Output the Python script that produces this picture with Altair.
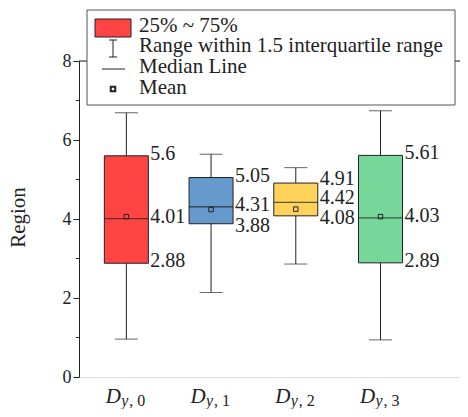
import altair as alt
import pandas as pd

categories = ["Dy0", "Dy1", "Dy2", "Dy3"]
positions = [1, 2, 3, 4]
sub_digits = ["0", "1", "2", "3"]
mins = [0.96, 2.14, 2.86, 0.94]
q1s = [2.88, 3.88, 4.08, 2.89]
medians = [4.01, 4.31, 4.42, 4.03]
q3s = [5.6, 5.05, 4.91, 5.61]
maxs = [6.69, 5.64, 5.30, 6.74]
means = [4.06, 4.24, 4.25, 4.06]
colors = ["#FF4444", "#6699CC", "#FFD35A", "#77D69A"]

label_cat = [1, 1, 1, 2, 2, 2, 3, 3, 3, 4, 4, 4]
label_val = [5.6, 4.01, 2.88, 5.05, 4.31, 3.88, 4.91, 4.42, 4.08, 5.61, 4.03, 2.89]
label_txt = ["5.6", "4.01", "2.88", "5.05", "4.31", "3.88", "4.91", "4.42", "4.08", "5.61", "4.03", "2.89"]
label_grp = ["n", "n", "n", "n", "n", "d", "u", "u", "d", "n", "n", "n"]

y_major = [0, 2, 4, 6, 8]
y_minor = [1, 3, 5, 7]

legend_texts = ["25% ~ 75%", "Range within 1.5 interquartile range", "Median Line", "Mean"]

FONT = "Liberation Serif"
INK = "#222222"
W, H = 381, 316

df = pd.DataFrame({
    "cat": categories, "pos": positions, "sub": sub_digits,
    "min": mins, "q1": q1s, "med": medians, "q3": q3s, "max": maxs, "mean": means,
})
lab = pd.DataFrame({"pos": label_cat, "val": label_val, "txt": label_txt, "grp": label_grp})

xs = alt.Scale(domain=[0.5, 0.5 + W / 87.0], nice=False, zero=False)
ys = alt.Scale(domain=[0, 8], nice=False, zero=False)
X = alt.X("pos:Q", scale=xs,
          axis=alt.Axis(values=positions, labels=False, title=None, grid=False,
                        tickSize=5, tickColor=INK, domainColor=INK, ticks=True))
Xn = alt.X("pos:Q", scale=xs, axis=None)
color = alt.Color("cat:N", scale=alt.Scale(domain=categories, range=colors), legend=None)

base = alt.Chart(df)

whisk = base.mark_rule(color=INK, strokeWidth=1).encode(
    x=X,
    y=alt.Y("min:Q", scale=ys,
            axis=alt.Axis(values=y_major, title="Region", grid=False, tickSize=6,
                          tickColor=INK, domainColor=INK, labelFont=FONT,
                          labelFontSize=18, labelColor=INK, labelPadding=2,
                          titleFont=FONT, titleFontSize=21, titleFontWeight="normal",
                          titleColor=INK, titleX=-61, titleY=156, titleAngle=-90,
                          titleAlign="center", titleBaseline="middle")),
    y2="max:Q",
)
cap_lo = base.mark_tick(orient="horizontal", size=23, thickness=1, color=INK).encode(
    x=Xn, y=alt.Y("min:Q", scale=ys))
cap_hi = base.mark_tick(orient="horizontal", size=23, thickness=1, color=INK).encode(
    x=Xn, y=alt.Y("max:Q", scale=ys))
box = base.mark_bar(size=44, stroke=INK, strokeWidth=1, opacity=1).encode(
    x=Xn, y=alt.Y("q1:Q", scale=ys), y2="q3:Q", color=color)
med = base.mark_tick(orient="horizontal", size=44, thickness=1.3, color=INK).encode(
    x=Xn, y=alt.Y("med:Q", scale=ys))
mean = base.mark_point(shape="square", size=20, filled=False, color=INK, strokeWidth=1,
                       opacity=1).encode(x=Xn, y=alt.Y("mean:Q", scale=ys))


def labels(grp, dy):
    return alt.Chart(lab).transform_filter(alt.datum.grp == grp).mark_text(
        align="left", baseline="middle", dx=24, dy=dy, font=FONT, fontSize=20, color=INK
    ).encode(x=Xn, y=alt.Y("val:Q", scale=ys), text="txt:N")


lab_n = labels("n", -2)
lab_u = labels("u", -4)
lab_d = labels("d", 2)

minor = alt.Chart(pd.DataFrame({"v": y_minor})).mark_rule(color=INK).encode(
    x=alt.value(-3), x2=alt.value(0), y=alt.Y("v:Q", scale=ys))
top = alt.Chart(pd.DataFrame({"v": [8]})).mark_rule(color=INK).encode(
    x=alt.value(0), x2=alt.value(W), y=alt.Y("v:Q", scale=ys))

xD = base.mark_text(font=FONT, fontSize=21, fontStyle="italic", align="center",
                    baseline="alphabetic", dx=-13, color=INK).encode(
    x=Xn, y=alt.value(342), text=alt.value("D"))
xy = base.mark_text(font=FONT, fontSize=16, fontStyle="italic", align="left",
                    baseline="alphabetic", dx=-5, color=INK).encode(
    x=Xn, y=alt.value(345), text=alt.value("y"))
xsub = base.transform_calculate(lbl="', ' + datum.sub").mark_text(
    font=FONT, fontSize=16, align="left", baseline="alphabetic", dx=3, color=INK).encode(
    x=Xn, y=alt.value(345), text="lbl:N")

# legend
one = pd.DataFrame({"a": [0]})
leg_box = alt.Chart(one).mark_rect(fill="white", stroke="#555555", strokeWidth=1).encode(
    x=alt.value(8), x2=alt.value(376), y=alt.value(-51), y2=alt.value(44))
leg_sw = alt.Chart(one).mark_rect(fill=colors[0], stroke=INK, strokeWidth=1).encode(
    x=alt.value(16), x2=alt.value(52), y=alt.value(-42), y2=alt.value(-24))
leg_i = alt.Chart(one).mark_rule(color=INK).encode(
    x=alt.value(34), y=alt.value(-21), y2=alt.value(-4))
leg_i1 = alt.Chart(one).mark_rule(color=INK).encode(
    x=alt.value(30), x2=alt.value(38), y=alt.value(-21))
leg_i2 = alt.Chart(one).mark_rule(color=INK).encode(
    x=alt.value(30), x2=alt.value(38), y=alt.value(-4))
leg_m = alt.Chart(one).mark_rule(color=INK).encode(
    x=alt.value(23), x2=alt.value(46), y=alt.value(8))
leg_mean = alt.Chart(one).mark_point(shape="square", size=20, filled=False, color=INK,
                                     opacity=1).encode(x=alt.value(34), y=alt.value(28))
leg_t = alt.Chart(pd.DataFrame({"t": legend_texts, "yy": [-29, -9, 12, 33]})).mark_text(
    font=FONT, fontSize=21, align="left", baseline="alphabetic", color=INK).encode(
    x=alt.value(60), y=alt.Y("yy:Q", scale=None), text="t:N")

chart = alt.layer(
    top, whisk, cap_lo, cap_hi, box, med, mean, lab_n, lab_u, lab_d, minor, xD, xy, xsub,
    leg_box, leg_sw, leg_i, leg_i1, leg_i2, leg_m, leg_mean, leg_t,
).properties(
    width=W, height=H, autosize=alt.AutoSizeParams(type="none"),
    padding={"left": 71, "top": 53, "right": 0, "bottom": 32},
).configure_view(stroke=None).configure(background="white")

chart.save("out.html", embed_options={"renderer": "svg", "actions": False})
